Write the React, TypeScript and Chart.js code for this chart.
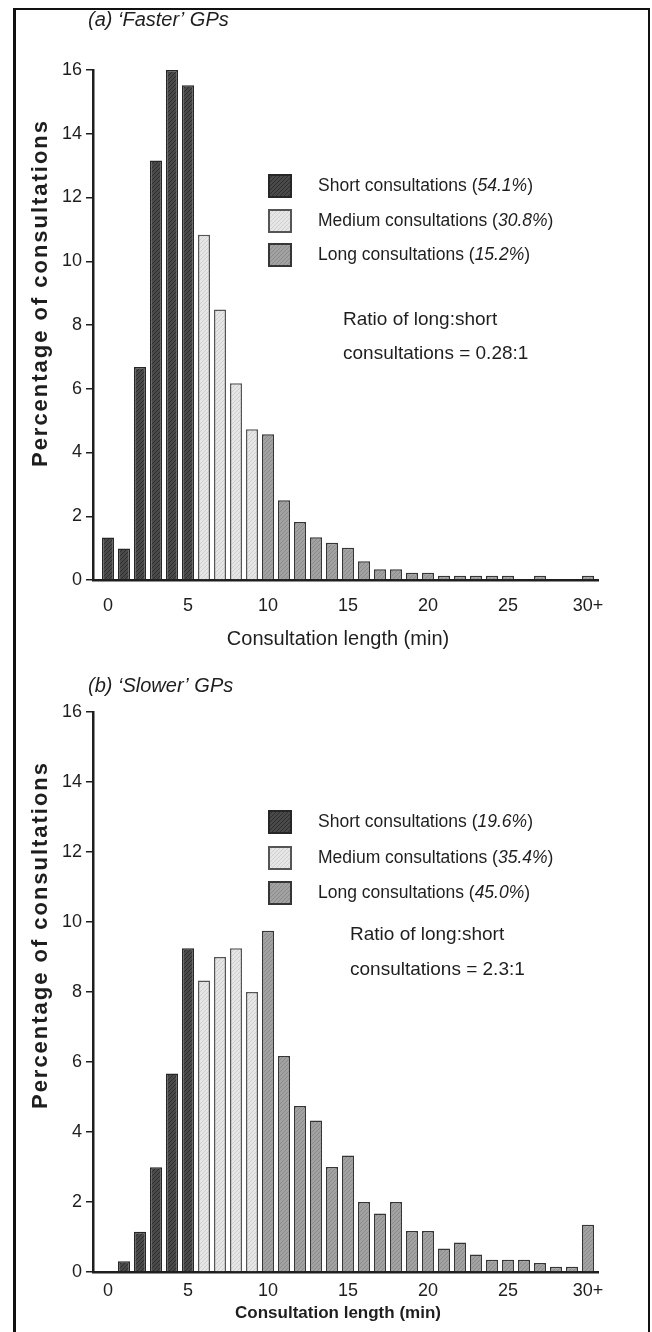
import React, { useEffect, useRef } from 'react';
import { Chart, registerables } from 'chart.js';

Chart.register(...registerables);

const FONT = '"Liberation Sans", Arial, Helvetica, sans-serif';
const INK = '#1e1e1e';

// ---- data ----
const minutes = [0, 1, 2, 3, 4, 5, 6, 7, 8, 9, 10, 11, 12, 13, 14, 15, 16, 17, 18, 19, 20, 21, 22, 23, 24, 25, 26, 27, 28, 29, 30];
const xTickValues = [0, 5, 10, 15, 20, 25, 30];
const xTickLabels = ['0', '5', '10', '15', '20', '25', '30+'];
const yTickValues = [0, 2, 4, 6, 8, 10, 12, 14, 16];

// 'Faster' GPs (% of consultations per minute of length)
const fasterValues = [1.33, 0.99, 6.68, 13.16, 16.0, 15.52, 10.83, 8.49, 6.17, 4.73, 4.57, 2.5, 1.82, 1.34, 1.17, 1.01, 0.59, 0.34, 0.34, 0.23, 0.23, 0.13, 0.13, 0.13, 0.13, 0.13, null, 0.13, null, null, 0.13];
// 'Slower' GPs
const slowerValues = [null, 0.31, 1.15, 2.99, 5.67, 9.25, 8.33, 9.0, 9.25, 8.0, 9.75, 6.17, 4.74, 4.33, 3.0, 3.33, 2.0, 1.67, 2.0, 1.17, 1.17, 0.67, 0.84, 0.5, 0.35, 0.35, 0.35, 0.26, 0.15, 0.15, 1.35];

const groupNames = ['Short consultations', 'Medium consultations', 'Long consultations'];
const fasterShares = ['54.1%', '30.8%', '15.2%'];
const slowerShares = ['19.6%', '35.4%', '45.0%'];
const fasterRatio = '0.28:1';
const slowerRatio = '2.3:1';
const groupStarts = [0, 6, 10]; // first minute of short / medium / long

// ---- styles ----
const groupBase = ['#4a4a4a', '#e6e6e6', '#a2a2a2'];
const groupHatch = ['#2e2e2e', '#cfcfcf', '#8a8a8a'];
const groupBorder = ['#262626', '#555555', '#363636'];

function groupOf(m: number) {
  if (m >= groupStarts[2]) return 2;
  if (m >= groupStarts[1]) return 1;
  return 0;
}

function makePattern(i: number): CanvasPattern | string {
  const c = document.createElement('canvas');
  c.width = 4;
  c.height = 4;
  const g = c.getContext('2d');
  if (!g) return groupBase[i];
  g.fillStyle = groupBase[i];
  g.fillRect(0, 0, 4, 4);
  g.fillStyle = groupHatch[i];
  for (let k = 0; k < 4; k++) g.fillRect(k, 3 - k, 1, 1);
  const p = g.createPattern(c, 'repeat');
  return p || groupBase[i];
}

type Layout = {
  height: number;
  areaTop: number;
  areaBottom: number;
  xTickPad: number;
  title: string;
  titleY: number;
  yTitleY: number;
  xTitleY: number;
  xTitleFont: string;
  legendY: number[];
  ratioX: number;
  ratioY: number[];
};

// draws text centred on (cx, cy) spread to a given total length
function fittedText(ctx: CanvasRenderingContext2D, text: string, cx: number, cy: number, length: number) {
  const chars = Array.from(text);
  const base = chars.reduce((s, ch) => s + ctx.measureText(ch).width, 0);
  const spacing = Math.max(0, (length - base) / (chars.length - 1));
  const total = base + spacing * (chars.length - 1);
  let x = cx - total / 2;
  ctx.textAlign = 'left';
  for (const ch of chars) {
    ctx.fillText(ch, x, cy);
    x += ctx.measureText(ch).width + spacing;
  }
}

function makePlugin(shares: string[], ratio: string, L: Layout, fills: (CanvasPattern | string)[]) {
  return {
    id: 'panelText',
    afterDraw(chart: any) {
      const ctx = chart.ctx as CanvasRenderingContext2D;
      ctx.save();
      ctx.fillStyle = INK;
      ctx.textBaseline = 'middle';
      ctx.textAlign = 'left';
      // panel title
      ctx.font = `italic 20px ${FONT}`;
      ctx.fillText(L.title, 88, L.titleY);
      // y axis title
      ctx.save();
      ctx.translate(41, L.yTitleY);
      ctx.rotate(-Math.PI / 2);
      ctx.font = `bold 22px ${FONT}`;
      fittedText(ctx, 'Percentage of consultations', 0, 0, 346);
      ctx.restore();
      // x axis title
      ctx.textAlign = 'center';
      ctx.font = L.xTitleFont;
      ctx.fillText('Consultation length (min)', 338, L.xTitleY);
      // legend
      ctx.textAlign = 'left';
      groupNames.forEach((name, i) => {
        const y = L.legendY[i];
        ctx.fillStyle = fills[i] as any;
        ctx.fillRect(269, y - 11, 22, 22);
        ctx.strokeStyle = groupBorder[i];
        ctx.lineWidth = 2;
        ctx.strokeRect(269, y - 11, 22, 22);
        ctx.fillStyle = INK;
        let x = 318;
        ctx.font = `17.5px ${FONT}`;
        const a = name + ' (';
        ctx.fillText(a, x, y);
        x += ctx.measureText(a).width;
        ctx.font = `italic 17.5px ${FONT}`;
        ctx.fillText(shares[i], x, y);
        x += ctx.measureText(shares[i]).width;
        ctx.font = `17.5px ${FONT}`;
        ctx.fillText(')', x, y);
      });
      // ratio note
      ctx.font = `19px ${FONT}`;
      ctx.fillText('Ratio of long:short', L.ratioX, L.ratioY[0]);
      ctx.fillText('consultations = ' + ratio, L.ratioX, L.ratioY[1]);
      ctx.restore();
    },
  };
}

function Panel({ values, shares, ratio, L }: { values: (number | null)[]; shares: string[]; ratio: string; L: Layout }) {
  const ref = useRef<HTMLCanvasElement>(null);
  useEffect(() => {
    if (!ref.current) return;
    const fills = [0, 1, 2].map((i) => makePattern(i));
    const data = minutes.map((m, i) => ({ x: m, y: values[i] }));
    const chart = new Chart(ref.current, {
      type: 'bar',
      data: {
        datasets: [
          {
            data: data as any,
            backgroundColor: minutes.map((m) => fills[groupOf(m)]) as any,
            borderColor: minutes.map((m) => groupBorder[groupOf(m)]),
            borderWidth: 1.5,
            borderSkipped: 'bottom',
            categoryPercentage: 1,
            barPercentage: 0.75,
          },
        ],
      },
      options: {
        animation: false,
        responsive: false,
        maintainAspectRatio: false,
        events: [],
        layout: { padding: { top: L.areaTop, right: 652 - 598, left: 0, bottom: 0 } },
        plugins: { legend: { display: false }, tooltip: { enabled: false }, title: { display: false } },
        scales: {
          x: {
            type: 'linear',
            offset: false,
            min: -0.9375,
            max: 30.625,
            afterFit: (s: any) => {
              s.height = L.height - L.areaBottom;
            },
            afterBuildTicks: (s: any) => {
              s.ticks = xTickValues.map((v) => ({ value: v }));
            },
            grid: { display: false, drawTicks: false },
            border: { display: true, color: INK, width: 2.5 },
            ticks: {
              padding: L.xTickPad,
              color: INK,
              font: { family: FONT, size: 18 },
              maxRotation: 0,
              autoSkip: false,
              callback: (v: any) => {
                const k = xTickValues.indexOf(Number(v));
                return k >= 0 ? xTickLabels[k] : '';
              },
            },
          },
          y: {
            min: 0,
            max: 16,
            afterFit: (s: any) => {
              s.width = 93;
            },
            afterBuildTicks: (s: any) => {
              s.ticks = yTickValues.map((v) => ({ value: v }));
            },
            grid: { display: true, drawOnChartArea: false, drawTicks: true, tickLength: 7, color: INK, lineWidth: 1.5 },
            border: { display: true, color: INK, width: 2.5 },
            ticks: {
              padding: 4,
              color: INK,
              font: { family: FONT, size: 18 },
            },
          },
        },
      },
      plugins: [makePlugin(shares, ratio, L, fills)],
    });
    return () => chart.destroy();
  }, []);
  return <canvas ref={ref} width={652} height={L.height} style={{ display: 'block', width: 652, height: L.height }} />;
}

const topLayout: Layout = {
  height: 660,
  areaTop: 70,
  areaBottom: 580,
  xTickPad: 15,
  title: "(a) \u2018Faster\u2019 GPs",
  titleY: 20,
  yTitleY: 294,
  xTitleY: 639,
  xTitleFont: `20px ${FONT}`,
  legendY: [186, 221, 255],
  ratioX: 343,
  ratioY: [320, 354],
};

const bottomLayout: Layout = {
  height: 672,
  areaTop: 52,
  areaBottom: 612,
  xTickPad: 8,
  title: "(b) \u2018Slower\u2019 GPs",
  titleY: 26,
  yTitleY: 276,
  xTitleY: 653,
  xTitleFont: `bold 17px ${FONT}`,
  legendY: [162, 198, 233],
  ratioX: 350,
  ratioY: [275, 310],
};

export default function App() {
  useEffect(() => {
    document.body.style.margin = '0';
  }, []);
  return (
    <div style={{ position: 'relative', width: 652, height: 1332, overflow: 'hidden', background: '#fff' }}>
      <div style={{ position: 'absolute', left: 0, top: 0 }}>
        <Panel values={fasterValues} shares={fasterShares} ratio={fasterRatio} L={topLayout} />
        <Panel values={slowerValues} shares={slowerShares} ratio={slowerRatio} L={bottomLayout} />
      </div>
      <div
        style={{
          position: 'absolute',
          left: 13,
          top: 8,
          width: 637,
          height: 1400,
          boxSizing: 'border-box',
          borderLeft: '3px solid #111',
          borderTop: '2px solid #111',
          borderRight: '2px solid #111',
          pointerEvents: 'none',
        }}
      />
    </div>
  );
}
